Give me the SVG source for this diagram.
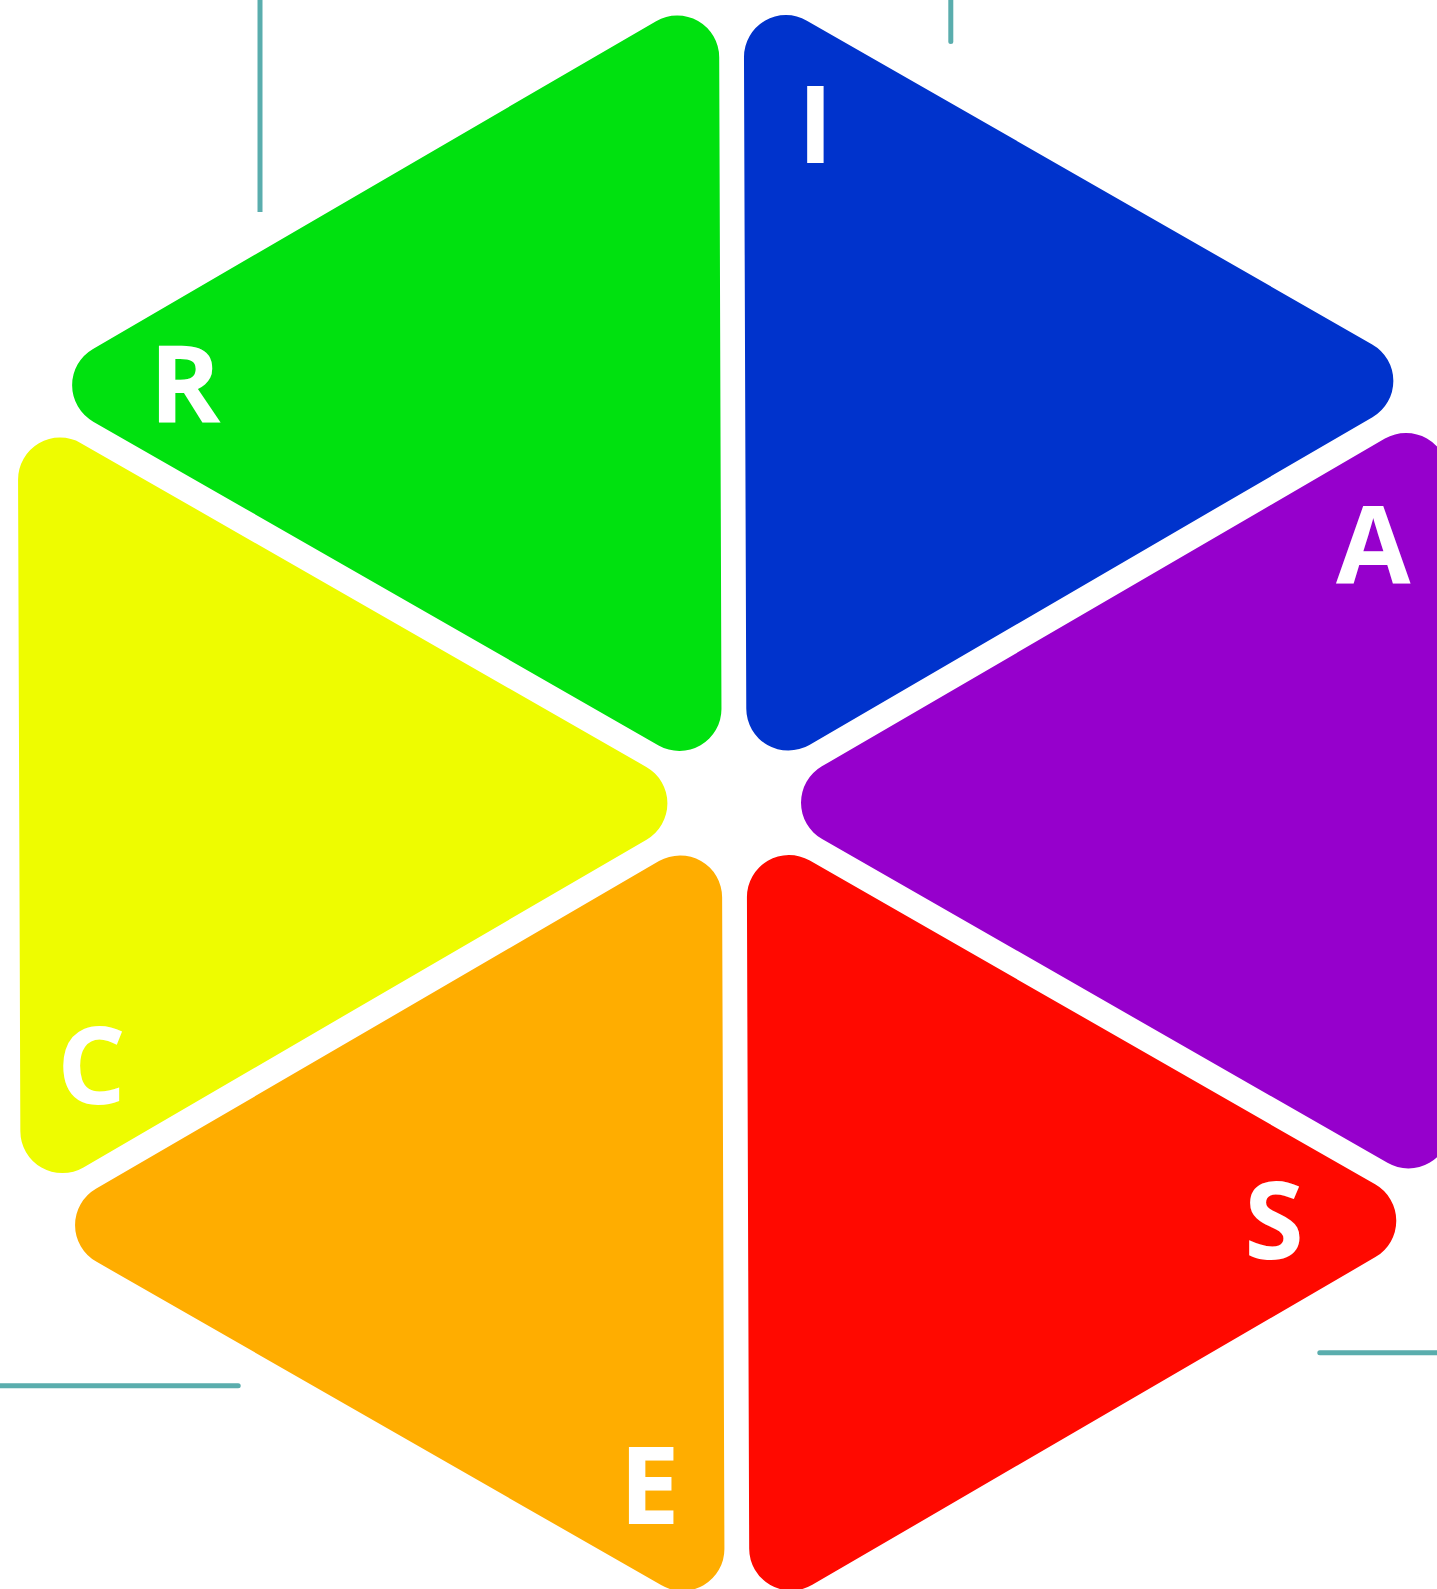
<svg xmlns="http://www.w3.org/2000/svg" xmlns:xlink="http://www.w3.org/1999/xlink" width="1437" height="1589" viewBox="0 0 1437 1589">
  <style>
    .lbl { font-family: "Open Sans", "Noto Sans", "Liberation Sans", sans-serif; font-weight: 700; font-size: 108px; fill: #ffffff; text-anchor: middle; }
    .deco { stroke: #5aadad; stroke-width: 5; fill: none; }
  </style>
  <defs>
    <path id="tri" d="M87.8,-36.37 L652,-362.13 A42,42 0 0 1 715,-325.75 L715,325.75 A42,42 0 0 1 652,362.13 L87.8,36.37 A42,42 0 0 1 87.8,-36.37 Z"/>
  </defs>
  <rect x="0" y="0" width="1437" height="1589" fill="#ffffff"/>
  <g id="connectors">
    <line class="deco" x1="260" y1="-5" x2="260" y2="212" stroke-linecap="butt"/>
    <line class="deco" x1="950.8" y1="-5" x2="950.8" y2="41.5" stroke-linecap="round"/>
    <line class="deco" x1="-5" y1="1385.7" x2="238.2" y2="1385.7" stroke-linecap="round"/>
    <line class="deco" x1="1319.8" y1="1352.7" x2="1445" y2="1352.7" stroke-linecap="round"/>
  </g>
  <g transform="translate(734.2 803) rotate(-0.2)">
    <g id="node-R"><use xlink:href="#tri" href="#tri" transform="rotate(240)" fill="#00e10f"/></g>
    <g id="node-I"><use xlink:href="#tri" href="#tri" transform="rotate(-60)" fill="#0033cc"/></g>
    <g id="node-A"><use xlink:href="#tri" href="#tri" fill="#9600cc"/></g>
    <g id="node-S"><use xlink:href="#tri" href="#tri" transform="rotate(60)" fill="#ff0900"/></g>
    <g id="node-E"><use xlink:href="#tri" href="#tri" transform="rotate(120)" fill="#ffad00"/></g>
    <g id="node-C"><use xlink:href="#tri" href="#tri" transform="rotate(180)" fill="#eefc00"/></g>
  </g>
  <g id="labels">
    <text class="lbl" x="184.8" y="422.7">R</text>
    <text class="lbl" x="815.3" y="162.7">I</text>
    <text class="lbl" x="1373.3" y="582.7">A</text>
    <text class="lbl" x="1274" y="1258.5">S</text>
    <text class="lbl" x="649.6" y="1524">E</text>
    <text class="lbl" x="91.5" y="1103.5">C</text>
  </g>
</svg>
